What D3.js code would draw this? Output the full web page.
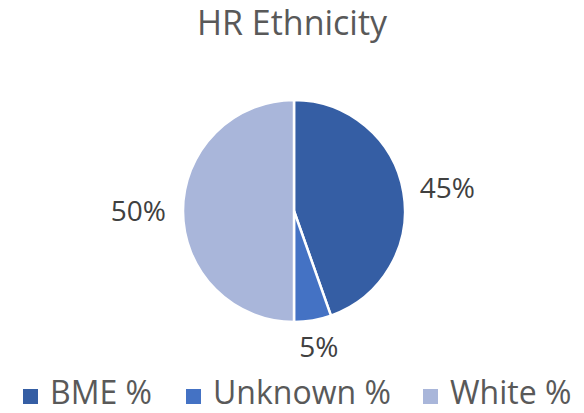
<!DOCTYPE html>
<html>
<head>
<meta charset="utf-8">
<script src="https://cdn.jsdelivr.net/npm/d3@7"></script>
<style>
  body { margin: 0; background: #fff; }
  svg { display: block; font-family: "Open Sans", sans-serif; }
</style>
</head>
<body>
<svg id="chart" width="584" height="413"></svg>
<script>
"use strict"

const categories = ["BME %", "Unknown %", "White %"]
const values = [44.6, 5.4, 50.0]
const labels = ["45%", "5%", "50%"]
const colors = ["#355EA4", "#4472C4", "#A9B6DA"]

const width = 584
const height = 413
const cx = 294
const cy = 211
const radius = 111

const svg = d3.select("#chart")

svg.append("rect")
  .attr("width", width)
  .attr("height", height)
  .attr("fill", "#fff")

svg.append("text")
  .attr("x", 292)
  .attr("y", 35)
  .attr("text-anchor", "middle")
  .attr("font-size", 34)
  .attr("fill", "#595959")
  .text("HR Ethnicity")

const data = categories.map((c, i) => ({ name: c, value: values[i], label: labels[i], color: colors[i] }))

const pie = d3.pie().sort(null).value(d => d.value)
const arc = d3.arc().innerRadius(0).outerRadius(radius)
const arcs = pie(data)

const g = svg.append("g").attr("transform", `translate(${cx},${cy})`)

g.selectAll("path")
  .data(arcs)
  .enter().append("path")
    .attr("d", arc)
    .attr("fill", d => d.data.color)
    .attr("stroke", "#fff")
    .attr("stroke-width", 2.5)
    .attr("stroke-linejoin", "round")

// labels: outside end, box pushed out along the slice's mid angle
const labelGap = 128
const lbl = g.selectAll("text.lbl")
  .data(arcs)
  .enter().append("text")
    .attr("class", "lbl")
    .attr("text-anchor", "middle")
    .attr("dy", "0.36em")
    .attr("font-size", 28)
    .attr("fill", "#404040")
    .text(d => d.data.label)

lbl.each(function(d) {
  const a = (d.startAngle + d.endAngle) / 2
  const w = this.getComputedTextLength()
  const h = 20
  const sx = Math.sin(a), sy = -Math.cos(a)
  const x = labelGap * sx + (w / 2) * sx
  const y = labelGap * sy + (h / 2) * sy
  d3.select(this).attr("x", x).attr("y", y)
})

// legend
const legendX = [23, 186, 423]
const legend = svg.append("g")
  .selectAll("g")
  .data(data)
  .enter().append("g")
    .attr("transform", (d, i) => `translate(${legendX[i]},0)`)

legend.append("rect")
  .attr("x", 0)
  .attr("y", 389)
  .attr("width", 15)
  .attr("height", 15)
  .attr("fill", d => d.color)

legend.append("text")
  .attr("x", 27)
  .attr("y", 404)
  .attr("font-size", 32)
  .attr("fill", "#595959")
  .text(d => d.name)
</script>
</body>
</html>
